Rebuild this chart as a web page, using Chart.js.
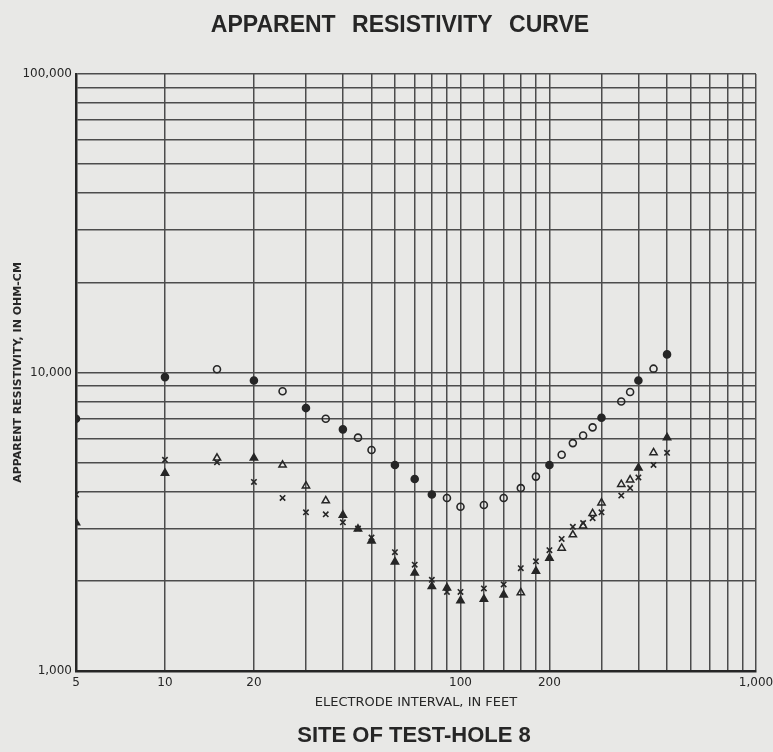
<!DOCTYPE html>
<html>
<head>
<meta charset="utf-8">
<script src="https://cdn.jsdelivr.net/npm/chart.js@4.4.0/dist/chart.umd.min.js"></script>
<style>
  html, body { margin: 0; padding: 0; background: #e8e8e6; }
  #wrap { width: 773px; height: 752px; }
</style>
</head>
<body>
<div id="wrap"><canvas id="resChart"></canvas></div>
<script>
// ELECTRODE INTERVAL (FEET)
var intervals = [5, 10, 15, 20, 25, 30, 35, 40, 45, 50, 60, 70, 80, 90, 100,
                 120, 140, 160, 180, 200, 220, 240, 260, 280, 300, 350, 375, 400, 450, 500];

// APPARENT RESISTIVITY (OHM-CM), ONE LIST PER SYMBOL
var circles = [7000, 9650, 10250, 9400, 8650, 7600, 7000, 6450, 6050, 5500, 4900, 4400, 3900, 3800, 3550,
               3600, 3800, 4100, 4480, 4900, 5300, 5800, 6150, 6550, 7050, 8000, 8600, 9400, 10300, 11500];
var crosses = [3900, 5100, 5000, 4300, 3800, 3400, 3350, 3150, 3000, 2800, 2500, 2270, 2020, 1840, 1840,
               1890, 1950, 2210, 2330, 2540, 2770, 3040, 3130, 3250, 3400, 3870, 4100, 4450, 4900, 5380];
var triangles = [3140, 4600, 5170, 5170, 4900, 4170, 3720, 3330, 2990, 2730, 2320, 2130, 1920, 1900, 1720,
                 1740, 1800, 1830, 2160, 2390, 2580, 2860, 3060, 3370, 3660, 4220, 4370, 4790, 5390, 6050];

// readings drawn with a solid symbol
var solidCircles = [5, 10, 20, 30, 40, 60, 70, 80, 200, 300, 400, 500];
var solidTriangles = [5, 10, 20, 40, 45, 50, 60, 70, 80, 90, 100, 120, 140, 180, 200, 400, 500];

// TICKS
var xGrid = [5, 10, 20, 30, 40, 50, 60, 70, 80, 90, 100, 120, 140, 160, 180, 200,
             300, 400, 500, 600, 700, 800, 900, 1000];
var xLabels = [5, 10, 20, 100, 200, 1000];
var yGrid = [1000, 2000, 3000, 4000, 5000, 6000, 7000, 8000, 9000,
             10000, 20000, 30000, 40000, 50000, 60000, 70000, 80000, 90000, 100000];
var yLabels = [1000, 10000, 100000];

var ink = '#262626';
var gridInk = '#4c4c4c';

function toPoints(vals) {
    return intervals.map(function (x, i) { return { x: x, y: vals[i] }; });
}
function fills(solid) {
    return intervals.map(function (x) { return solid.indexOf(x) >= 0 ? ink : 'rgba(0,0,0,0)'; });
}
function fmt(v) {
    return Number(v).toLocaleString('en-US');
}

// PAPER + BIG TITLES
var paperText = {
    id: 'paperText',
    beforeDraw: function (chart) {
        var ctx = chart.ctx;
        ctx.save();
        ctx.fillStyle = '#e8e8e6';
        ctx.fillRect(0, 0, chart.width, chart.height);
        ctx.restore();
    },
    afterDraw: function (chart) {
        var ctx = chart.ctx;
        ctx.save();
        ctx.fillStyle = ink;
        ctx.textAlign = 'center';
        ctx.textBaseline = 'middle';
        ctx.font = 'bold 23px "Liberation Sans", Arial, sans-serif';
        ctx.wordSpacing = '10px';
        ctx.fillText('APPARENT RESISTIVITY CURVE', 400, 26);
        ctx.wordSpacing = '0px';
        ctx.font = 'bold 22px "Liberation Sans", Arial, sans-serif';
        ctx.fillText('SITE OF TEST-HOLE 8', 414, 736);
        ctx.restore();
    }
};

const resChart = new Chart('resChart', {
    type: 'scatter',
    data: {
        datasets: [{
            label: 'circles',
            data: toPoints(circles),
            pointStyle: 'circle',
            pointRadius: 3.5,
            borderWidth: 1.6,
            borderColor: ink,
            backgroundColor: fills(solidCircles)
        }, {
            label: 'crosses',
            data: toPoints(crosses),
            pointStyle: 'crossRot',
            pointRadius: 3.8,
            borderWidth: 1.6,
            borderColor: ink,
            backgroundColor: ink
        }, {
            label: 'triangles',
            data: toPoints(triangles),
            pointStyle: 'triangle',
            pointRadius: 4.2,
            borderWidth: 1.5,
            borderColor: ink,
            backgroundColor: fills(solidTriangles)
        }]
    },
    options: {
        responsive: true,
        maintainAspectRatio: false,
        animation: false,
        layout: { padding: { top: 74, right: 17, bottom: 0, left: 0 } },
        plugins: {
            legend: { display: false },
            tooltip: { enabled: false },
            title: { display: false }
        },
        scales: {
            x: {
                type: 'logarithmic',
                min: 5,
                max: 1000,
                afterFit: function (s) {
                    s.height = 81;
                    s.paddingRight = 0;
                    s.paddingLeft = 0;
                },
                afterBuildTicks: function (s) {
                    s.ticks = xGrid.map(function (v) { return { value: v }; });
                },
                grid: { color: gridInk, lineWidth: 1.5, drawTicks: false },
                border: { color: ink, width: 2.5 },
                ticks: {
                    autoSkip: false,
                    maxRotation: 0,
                    padding: 5,
                    color: ink,
                    font: { family: '"DejaVu Sans", sans-serif', size: 12 },
                    callback: function (v) { return xLabels.indexOf(v) >= 0 ? fmt(v) : ''; }
                },
                title: {
                    display: true,
                    text: 'ELECTRODE INTERVAL, IN FEET',
                    color: ink,
                    font: { family: '"DejaVu Sans", sans-serif', size: 13 },
                    padding: { top: 0, bottom: 42 }
                }
            },
            y: {
                type: 'logarithmic',
                min: 1000,
                max: 100000,
                afterFit: function (s) { s.width = 76; },
                afterBuildTicks: function (s) {
                    s.ticks = yGrid.map(function (v) { return { value: v }; });
                },
                grid: { color: gridInk, lineWidth: 1.5, drawTicks: false },
                border: { color: ink, width: 2.5 },
                ticks: {
                    autoSkip: false,
                    padding: 4,
                    color: ink,
                    font: { family: '"DejaVu Sans", sans-serif', size: 12 },
                    callback: function (v) { return yLabels.indexOf(v) >= 0 ? fmt(v) : ''; }
                },
                title: {
                    display: true,
                    text: 'APPARENT RESISTIVITY, IN OHM-CM',
                    color: ink,
                    font: { family: '"DejaVu Sans", sans-serif', size: 11, weight: 'bold' },
                    padding: { top: 12, bottom: 0 }
                }
            }
        }
    },
    plugins: [paperText]
});
</script>
</body>
</html>
